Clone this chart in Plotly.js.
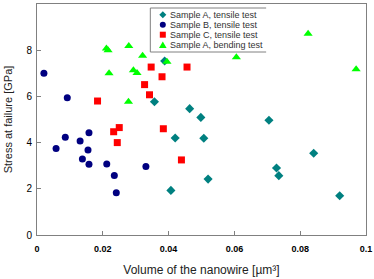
<!DOCTYPE html>
<html>
<head>
<meta charset="utf-8">
<script src="https://cdn.plot.ly/plotly-3.0.1.min.js"></script>
<style>html,body{margin:0;padding:0;background:#fff;}#chart{width:374px;height:279px;}</style>
</head>
<body>
<div id="chart"></div>
<script>
// Sample A, tensile test
var aTensileX = [0.0357, 0.0388, 0.0464, 0.0498, 0.0420, 0.0507, 0.0407, 0.0520, 0.0728, 0.0735, 0.0841, 0.0920, 0.0705];
var aTensileY = [5.77, 7.53, 5.47, 5.09, 4.20, 4.19, 1.93, 2.42, 2.90, 2.57, 3.54, 1.70, 4.97];
// Sample B, tensile test
var bTensileX = [0.0021, 0.0092, 0.0158, 0.0086, 0.0131, 0.0058, 0.0155, 0.0138, 0.0158, 0.0212, 0.0235, 0.0241, 0.0331];
var bTensileY = [7.00, 5.94, 4.43, 4.23, 4.07, 3.74, 3.68, 3.29, 3.06, 3.07, 2.58, 1.83, 2.97];
// Sample C, tensile test
var cTensileX = [0.0184, 0.0347, 0.0327, 0.0342, 0.0380, 0.0384, 0.0233, 0.0250, 0.0456, 0.0244, 0.0439];
var cTensileY = [5.80, 7.27, 6.51, 6.07, 6.85, 4.60, 4.47, 4.65, 7.27, 4.00, 3.25];
// Sample A, bending test
var aBendingX = [0.0211, 0.0216, 0.0279, 0.0321, 0.0219, 0.0293, 0.0304, 0.0278, 0.0395, 0.0606, 0.0824, 0.0970];
var aBendingY = [8.07, 8.00, 8.18, 7.76, 7.00, 7.13, 7.01, 5.77, 7.50, 7.69, 8.71, 7.17];

var seriesNames = ["Sample A, tensile test", "Sample B, tensile test", "Sample C, tensile test", "Sample A, bending test"];
var xTickVals = [0, 0.02, 0.04, 0.06, 0.08, 0.1];
var xTickText = ["0", "0.02", "0.04", "0.06", "0.08", "0.1"];
var yTickVals = [0, 2, 4, 6, 8, 10];

var colors = ["#008080", "#000080", "#FF0000", "#00FF00"];
var symbols = ["diamond", "circle", "square", "triangle-up"];
var sizes = [7, 7, 7, 8];
var xs = [aTensileX, bTensileX, cTensileX, aBendingX];
var ys = [aTensileY, bTensileY, cTensileY, aBendingY];

var traces = [];
for (var i = 0; i < 4; i++) {
  traces.push({
    type: "scatter", mode: "markers", name: seriesNames[i],
    x: xs[i], y: ys[i],
    marker: {color: colors[i], symbol: symbols[i], size: sizes[i], line: {width: 0}},
    showlegend: false
  });
}

// plot area in pixels
var W = 374, H = 279;
var L = 36.5, R = 8, T = 4, B = 44;
var pw = W - L - R, ph = H - T - B;
function px(x) { return (x - L) / pw; }
function py(y) { return (H - B - y) / ph; }

var gray = "#808080";
var shapes = [
  {type: "line", xref: "paper", yref: "paper", x0: px(150), x1: px(150), y0: py(8), y1: py(52), line: {color: gray, width: 1}},
  {type: "line", xref: "paper", yref: "paper", x0: px(150), x1: px(266), y0: py(8), y1: py(8), line: {color: gray, width: 1}},
  {type: "line", xref: "paper", yref: "paper", x0: px(150), x1: px(266), y0: py(52), y1: py(52), line: {color: gray, width: 1}}
];
var annotations = [];
var rowY = [14.7, 24.7, 34.7, 45];
for (var k = 0; k < 4; k++) {
  var cy = py(rowY[k]);
  var cxp = px(162.5);
  var sh = {xref: "paper", yref: "paper", xsizemode: "pixel", ysizemode: "pixel", xanchor: cxp, yanchor: cy,
            fillcolor: colors[k], line: {width: 0}};
  if (k === 0) { sh.type = "path"; sh.path = "M0,3.5 L3.5,0 L0,-3.5 L-3.5,0 Z"; }
  else if (k === 1) { sh.type = "circle"; sh.x0 = -3; sh.x1 = 3; sh.y0 = -3; sh.y1 = 3; }
  else if (k === 2) { sh.type = "rect"; sh.x0 = -3; sh.x1 = 3; sh.y0 = -3; sh.y1 = 3; }
  else { sh.type = "path"; sh.path = "M0,3.5 L3.8,-3 L-3.8,-3 Z"; }
  shapes.push(sh);
  annotations.push({xref: "paper", yref: "paper", x: px(167.5), y: cy, xanchor: "left", yanchor: "middle",
    text: seriesNames[k], showarrow: false, font: {family: "Liberation Sans, Arial, sans-serif", size: 9, color: "#333333"}});
}

var layout = {
  width: W, height: H,
  margin: {l: L, r: R, t: T, b: B, pad: 0},
  paper_bgcolor: "#ffffff", plot_bgcolor: "#ffffff",
  font: {family: "Liberation Sans, Arial, sans-serif", color: "#000000"},
  showlegend: false,
  xaxis: {
    range: [0, 0.1], tickvals: xTickVals, ticktext: xTickText,
    ticks: "inside", ticklen: 4, tickcolor: gray, showgrid: false, zeroline: false,
    showline: true, linecolor: gray, linewidth: 1, mirror: true,
    tickfont: {size: 9, weight: "bold"}, ticklabelstandoff: 5,
    title: {text: "Volume of the nanowire [µm³]", font: {size: 12, color: "#222222"}, standoff: 12}
  },
  yaxis: {
    range: [0, 10], tickvals: yTickVals,
    ticks: "inside", ticklen: 4, tickcolor: gray, showgrid: false, zeroline: false,
    showline: true, linecolor: gray, linewidth: 1, mirror: true,
    tickfont: {size: 10}, ticklabelstandoff: 2,
    title: {text: "Stress at failure [GPa]", font: {size: 11, color: "#222222"}, standoff: 11}
  },
  shapes: shapes,
  annotations: annotations
};

Plotly.newPlot("chart", traces, layout, {displayModeBar: false, staticPlot: true});
</script>
</body>
</html>
